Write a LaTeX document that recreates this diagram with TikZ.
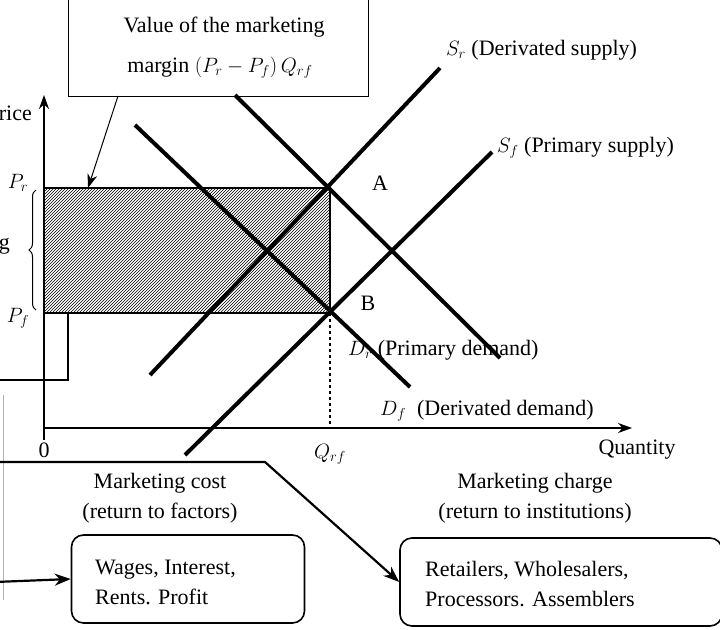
\documentclass[tikz,border=0pt]{standalone}
\usepackage{fontspec}
\setmainfont{Liberation Serif}
\usetikzlibrary{patterns,arrows.meta,decorations.pathreplacing}
\begin{document}
\begin{tikzpicture}[x=1pt,y=-1pt,
  curve/.style={line width=4pt},
  conn/.style={line width=2.2pt},
  txt/.style={font=\fontsize{22}{26}\selectfont,inner sep=0pt},
  rbox/.style={draw,line width=1.6pt,rounded corners=12pt}]
\useasboundingbox (0,0) rectangle (720,629);
\begin{scope}
\clip (0,0) rectangle (720,629);
% top box
\node[draw,line width=1.3pt,minimum width=300pt,minimum height=102pt,anchor=north west] (vbox) at (68,-6) {};
\node[txt] (v1) at (224,27) {Value of the marketing};
\node[txt] (v2) at (220,68) {margin $(P_r-P_f)\,Q_{rf}$};
\coordinate (vs) at (118,96);
\coordinate (vt) at (88,188);
\draw[line width=1pt,-{Stealth[length=14pt,width=10pt]}] (vs) -- (vt);
% axes
\coordinate (O) at (44,428);
\coordinate (ytop) at (44,95);
\coordinate (xend) at (632,428);
\draw[line width=1.3pt,-{Stealth[length=14pt,width=10pt]}] (44,440) -- (ytop);
\draw[line width=1.3pt,-{Stealth[length=14pt,width=10pt]}] (O) -- (xend);
\node[txt,anchor=east] (price) at (32,113) {Price};
\node[txt] (zero) at (44,450) {0};
\node[txt] (qrf) at (330,454) {$Q_{rf}$};
\node[txt] (qty) at (637,450) {Quantity};
% margin rectangle
\draw[line width=2.2pt,pattern=north east lines] (44,188) rectangle (330,313);
\node[txt] (pr) at (18,183) {$P_r$};
\node[txt] (pf) at (18,318) {$P_f$};
\draw[line width=1pt,decorate,decoration={brace,amplitude=7pt}] (36,310) -- (36,190);
\node[txt,anchor=east] (g) at (10,246) {g};
\draw[dashed,line width=1.2pt] (330,313) -- (330,428);
% curves
\draw[curve] (135,125) -- (410,387);
\draw[curve] (235,95) -- (500,358);
\draw[curve] (150,375) -- (440,68);
\draw[curve] (185,455) -- (492,152);
\node[txt] (A) at (380,183) {A};
\node[txt] (B) at (368,303) {B};
\node[txt,anchor=west] (dr) at (348,350) {$D_r$ (Primary demand)};
\node[txt,anchor=west] (df) at (380,411) {$D_f$\ \ (Derivated demand)};
\node[txt,anchor=west] (sr) at (446,50) {$S_r$ (Derivated supply)};
\node[txt,anchor=west] (sf) at (497,148) {$S_f$ (Primary supply)};
% bottom boxes
\node[rbox,minimum width=233pt,minimum height=88pt] (wb) at (188,579) {};
\node[txt,align=left,anchor=west] (wt) at (95,582) {Wages, Interest,\\[4pt]Rents. Profit};
\node[rbox,minimum width=322pt,minimum height=88pt] (rb) at (561,582) {};
\node[txt,align=left,anchor=west] (rt) at (425,584) {Retailers, Wholesalers,\\[4pt]Processors. Assemblers};
\node[txt,align=center] (mc) at (160,498) {Marketing cost\\[4pt](return to factors)};
\node[txt,align=center] (mch) at (535,498) {Marketing charge\\[4pt](return to institutions)};
% connectors
\draw[conn] (68,313) -- (68,380) -- (-5,380);
\draw[line width=1pt,gray!60] (3,395) -- (3,600);
\coordinate (c0) at (-5,462);
\coordinate (c1) at (265,462);
\draw[conn,-{Stealth[length=16pt,width=12pt]}] (c0) -- (c1) -- (rb.west);
\coordinate (w0) at (-5,582);
\draw[conn,-{Stealth[length=16pt,width=12pt]}] (w0) -- (wb.west);
\end{scope}
\end{tikzpicture}
\end{document}
